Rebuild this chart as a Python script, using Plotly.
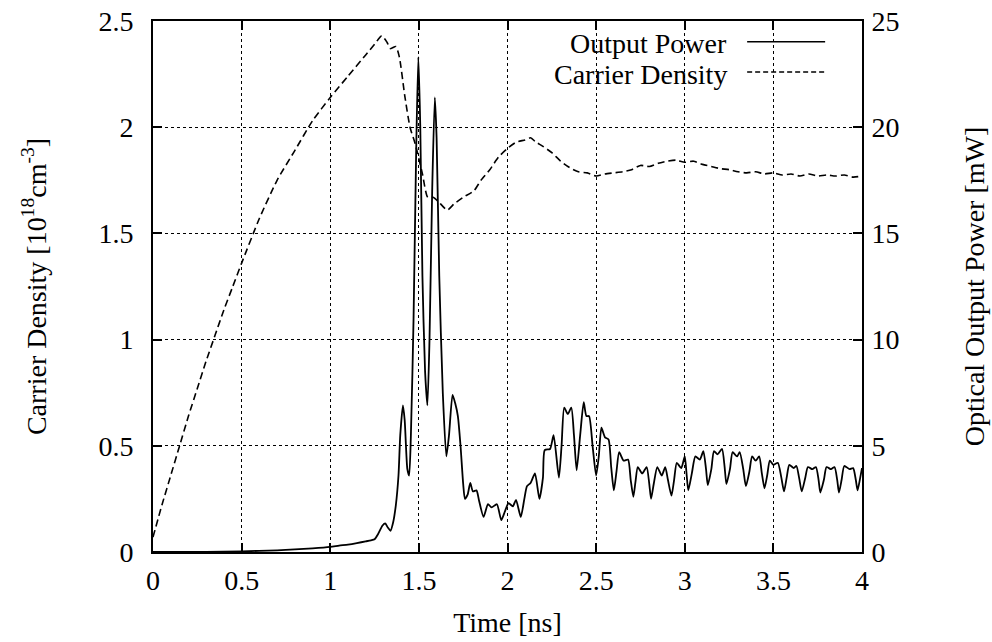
import plotly.graph_objects as go

# ---- data ----
t_density = [0.0, 0.05, 0.1, 0.15, 0.2, 0.25, 0.3, 0.35, 0.4, 0.45, 0.5, 0.6, 0.7, 0.8, 0.9,
             1.0, 1.1, 1.2, 1.25, 1.29, 1.32, 1.34, 1.37, 1.39, 1.42, 1.45, 1.48, 1.52, 1.55,
             1.58, 1.61, 1.66, 1.7, 1.75, 1.81, 1.85, 1.9, 1.95, 2.0, 2.05, 2.1, 2.13, 2.16,
             2.2, 2.25, 2.3, 2.35, 2.4, 2.45, 2.5, 2.55, 2.6, 2.65, 2.7, 2.75, 2.8, 2.85, 2.9,
             2.95, 3.0, 3.05, 3.1, 3.15, 3.2, 3.25, 3.3, 3.35, 3.4, 3.45, 3.5, 3.55, 3.6,
             3.65, 3.7, 3.75, 3.8, 3.85, 3.9, 3.95, 4.0]
carrier_density = [0.07, 0.22, 0.36, 0.50, 0.64, 0.77, 0.90, 1.02, 1.14, 1.25, 1.36, 1.57,
                   1.75, 1.89, 2.03, 2.14, 2.24, 2.34, 2.39, 2.43, 2.40, 2.37, 2.38, 2.33,
                   2.15, 2.00, 1.92, 1.78, 1.67, 1.67, 1.65, 1.61, 1.64, 1.67, 1.70, 1.75,
                   1.80, 1.86, 1.90, 1.93, 1.94, 1.95, 1.93, 1.91, 1.88, 1.84, 1.81, 1.79,
                   1.785, 1.77, 1.78, 1.785, 1.79, 1.80, 1.82, 1.815, 1.83, 1.84, 1.845, 1.835,
                   1.84, 1.825, 1.815, 1.805, 1.80, 1.79, 1.785, 1.79, 1.78, 1.785, 1.775,
                   1.78, 1.77, 1.78, 1.77, 1.775, 1.77, 1.775, 1.765, 1.77]

t_power = [0.0, 0.3, 0.5, 0.7, 0.8, 0.9, 1.0, 1.05, 1.1, 1.15, 1.2, 1.23, 1.25, 1.27, 1.295,
           1.31, 1.325, 1.34, 1.355, 1.37, 1.385, 1.395, 1.41, 1.42, 1.435, 1.445, 1.455,
           1.47, 1.485, 1.497, 1.508, 1.52, 1.535, 1.548, 1.56, 1.575, 1.59, 1.60, 1.615,
           1.635, 1.655, 1.67, 1.69, 1.705, 1.72, 1.735, 1.75, 1.76, 1.775, 1.79, 1.805,
           1.825, 1.84, 1.865, 1.89, 1.91, 1.94, 1.965, 1.985, 2.006, 2.03, 2.048, 2.075,
           2.095, 2.11, 2.13, 2.155, 2.18, 2.2, 2.21, 2.24, 2.26, 2.29, 2.305, 2.32, 2.34,
           2.36, 2.375, 2.39, 2.41, 2.43, 2.445, 2.46, 2.48, 2.50, 2.515, 2.53, 2.55, 2.57,
           2.585, 2.60, 2.615, 2.63, 2.655, 2.68, 2.695, 2.71, 2.722, 2.735, 2.76, 2.785,
           2.80, 2.81, 2.825, 2.845, 2.87, 2.89, 2.905, 2.925, 2.94, 2.955, 2.98, 3.0, 3.01,
           3.02, 3.04, 3.06, 3.085, 3.105, 3.12, 3.13, 3.15, 3.165, 3.185, 3.21, 3.225,
           3.235, 3.255, 3.27, 3.295, 3.31, 3.33, 3.345, 3.365, 3.38, 3.40, 3.42, 3.435,
           3.45, 3.465, 3.48, 3.50, 3.525, 3.545, 3.56, 3.575, 3.59, 3.615, 3.63, 3.645,
           3.66, 3.68, 3.695, 3.72, 3.74, 3.755, 3.765, 3.785, 3.80, 3.825, 3.845, 3.86,
           3.87, 3.885, 3.90, 3.93, 3.95, 3.965, 3.975, 3.99, 4.0]
output_power = [0.0, 0.01, 0.03, 0.08, 0.12, 0.17, 0.24, 0.3, 0.35, 0.42, 0.5, 0.55, 0.6,
                0.85, 1.25, 1.35, 1.15, 1.0, 1.4, 2.2, 3.6, 5.5, 6.9, 6.2, 3.9, 3.6, 5.5,
                11.0, 19.0, 23.3, 20.0, 13.0, 8.5, 6.9, 10.0, 17.0, 21.4, 19.5, 13.0, 7.5,
                4.5, 5.5, 7.4, 7.0, 6.4, 5.0, 3.2, 2.5, 2.7, 3.25, 2.85, 2.9, 2.4, 1.65,
                2.25, 2.1, 2.25, 1.5, 1.9, 2.3, 2.15, 2.45, 1.65, 2.5, 3.1, 3.25, 3.7, 2.5,
                3.5, 4.8, 4.85, 5.5, 3.5, 5.0, 6.8, 6.5, 6.8, 5.5, 3.85, 5.5, 7.05, 6.4,
                6.4, 5.0, 3.6, 4.5, 5.85, 5.4, 5.3, 4.0, 2.9, 3.8, 4.7, 4.3, 4.35, 3.4,
                2.6, 3.3, 4.0, 3.7, 4.0, 3.2, 2.5, 3.2, 4.0, 3.6, 4.0, 3.4, 2.65, 3.4,
                4.2, 3.95, 4.5, 3.7, 2.9, 3.7, 4.5, 4.35, 4.75, 3.9, 3.15, 3.9, 4.75, 4.6,
                4.85, 4.0, 3.2, 3.9, 4.7, 4.5, 4.7, 3.9, 3.1, 3.8, 4.5, 4.3, 4.5, 3.7,
                3.0, 3.6, 4.3, 4.1, 4.2, 3.5, 2.85, 3.5, 4.1, 3.95, 4.05, 3.5, 2.85, 3.5,
                4.0, 3.9, 4.0, 3.4, 2.8, 3.4, 4.0, 3.9, 4.0, 3.4, 2.8, 3.4, 4.05, 3.9,
                3.95, 3.4, 2.9, 3.5, 3.95]

x_ticks = [0, 0.5, 1, 1.5, 2, 2.5, 3, 3.5, 4]
x_ticklabels = ["0", "0.5", "1", "1.5", "2", "2.5", "3", "3.5", "4"]
y_ticks = [0, 0.5, 1, 1.5, 2, 2.5]
y_ticklabels = ["0", "0.5", "1", "1.5", "2", "2.5"]
y2_ticks = [0, 5, 10, 15, 20, 25]
y2_ticklabels = ["0", "5", "10", "15", "20", "25"]
legend_names = ["Output Power", "Carrier Density"]

FONT = "Liberation Serif, Times New Roman, serif"
FS = 28

fig = go.Figure()
fig.add_trace(go.Scatter(
    x=t_density, y=carrier_density, mode="lines", name=legend_names[1],
    line=dict(color="black", width=1.6, dash="7px,4px", shape="spline", smoothing=0.6),
    yaxis="y", showlegend=False))
fig.add_trace(go.Scatter(
    x=t_power, y=output_power, mode="lines", name=legend_names[0],
    line=dict(color="black", width=1.8, shape="spline", smoothing=0.6),
    yaxis="y2", showlegend=False))

axis_common = dict(
    ticks="inside", ticklen=9, tickwidth=1.5, tickcolor="black",
    showline=True, linecolor="black", linewidth=1.6,
    tickfont=dict(family=FONT, size=FS, color="black"),
    zeroline=False, automargin=False,
)

fig.update_layout(
    width=992, height=642,
    margin=dict(l=153, r=130, t=21, b=90),
    paper_bgcolor="white", plot_bgcolor="white",
    font=dict(family=FONT, size=FS, color="black"),
    xaxis=dict(
        range=[0, 4], tickvals=x_ticks, ticktext=x_ticklabels, mirror="ticks",
        showgrid=True, gridcolor="black", gridwidth=1, griddash="dot",
        title=dict(text="Time [ns]", font=dict(family=FONT, size=FS), standoff=17),
        ticklabelstandoff=3,
        **axis_common),
    yaxis=dict(
        range=[0, 2.5], tickvals=y_ticks, ticktext=y_ticklabels, mirror=False,
        showgrid=True, gridcolor="black", gridwidth=1, griddash="dot",
        title=dict(text="Carrier Density [10<sup>18</sup>cm<sup>-3</sup>]",
                   font=dict(family=FONT, size=FS), standoff=44),
        ticklabelstandoff=12,
        **axis_common),
    yaxis2=dict(
        range=[0, 25], tickvals=y2_ticks, ticktext=y2_ticklabels, overlaying="y",
        side="right", showgrid=False,
        title=dict(text="Optical Output Power [mW]", font=dict(family=FONT, size=FS),
                   standoff=66),
        ticklabelstandoff=2,
        **axis_common),
)

# blank box behind the key (covers the grid only)
fig.add_shape(type="rect", xref="paper", yref="paper", x0=0.48, x1=0.997, y0=0.875, y1=0.997,
              fillcolor="white", line=dict(width=0), layer="between")

# key: right-aligned text followed by the line sample
key_y = [0.957, 0.9]
key_dash = ["solid", "5px,3px"]
for name, ky, dsh in zip(legend_names, key_y, key_dash):
    fig.add_annotation(text=name, xref="paper", yref="paper", x=0.812, y=ky,
                       xanchor="right", yanchor="middle", showarrow=False,
                       font=dict(family=FONT, size=FS, color="black"))
    fig.add_shape(type="line", xref="paper", yref="paper", x0=0.838, x1=0.948,
                  y0=ky + 0.004, y1=ky + 0.004, line=dict(color="black", width=1.5, dash=dsh))

fig.write_html("out.html", config={"displayModeBar": False},
               post_script="document.body.style.margin='0px';document.body.style.overflow='hidden';")
